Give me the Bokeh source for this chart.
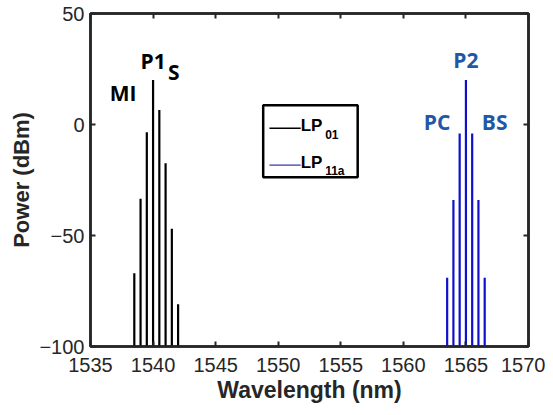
from bokeh.plotting import figure
from bokeh.models import (Range1d, FixedTicker, LinearAxis, Label, BoxAnnotation,
                          CustomJSTickFormatter, ColumnDataSource)
from bokeh.embed import file_html
from bokeh.resources import INLINE

# ---- data ----
wl_lp01 = [1538.5, 1539.0, 1539.5, 1540.0, 1540.5, 1541.0, 1541.5, 1542.0]
pw_lp01 = [-67, -33.5, -3.5, 20, 6.5, -17.5, -47, -81]
wl_lp11 = [1563.5, 1564.0, 1564.5, 1565.0, 1565.5, 1566.0, 1566.5]
pw_lp11 = [-69, -34, -4, 20, -4, -34, -69]
floor_db = -100
x_ticks = [1535, 1540, 1545, 1550, 1555, 1560, 1565, 1570]
y_ticks = [-100, -50, 0, 50]
black_labels = ["MI", "P1", "S"]
black_label_x = [1537.6, 1540.0, 1541.65]
black_label_y = [14, 28.5, 23.5]
blue_labels = ["PC", "P2", "BS"]
blue_label_x = [1562.7, 1565.0, 1567.3]
blue_label_y = [1, 29, 1]
legend_names = ["LP", "LP"]
legend_subs = ["01", "11a"]

AX = "#262626"
BLUE = "#1010cc"
BLUE_TXT = "#1f58a6"

p = figure(width=545, height=407, output_backend="svg", toolbar_location=None,
           x_range=Range1d(1535, 1570), y_range=Range1d(-100, 50),
           min_border_left=90, min_border_right=17, min_border_top=13, min_border_bottom=61)
p.grid.visible = False
p.outline_line_color = AX
p.outline_line_width = 2.5
p.background_fill_color = "white"
p.border_fill_color = "white"

s1 = ColumnDataSource(dict(x=wl_lp01, y0=[floor_db] * len(wl_lp01), y1=pw_lp01))
s2 = ColumnDataSource(dict(x=wl_lp11, y0=[floor_db] * len(wl_lp11), y1=pw_lp11))
p.segment(x0="x", y0="y0", x1="x", y1="y1", source=s1, line_color="black", line_width=2.2)
p.segment(x0="x", y0="y0", x1="x", y1="y1", source=s2, line_color=BLUE, line_width=2.2)

for ax in (p.xaxis[0], p.yaxis[0]):
    ax.axis_line_color = AX
    ax.axis_line_width = 2.5
    ax.major_tick_line_color = AX
    ax.major_tick_line_width = 2
    ax.major_tick_in = 5
    ax.major_tick_out = 0
    ax.minor_tick_line_color = None
    ax.major_label_text_font = "Liberation Sans"
    ax.major_label_text_font_size = "20px"
    ax.major_label_text_color = AX
    ax.axis_label_text_font = "Liberation Sans"
    ax.axis_label_text_font_style = "bold"
    ax.axis_label_text_color = AX

p.xaxis[0].ticker = FixedTicker(ticks=x_ticks)
p.yaxis[0].ticker = FixedTicker(ticks=y_ticks)
p.xaxis[0].axis_label = "Wavelength (nm)"
p.yaxis[0].axis_label = "Power (dBm)"
p.xaxis[0].axis_label_text_font_size = "23px"
p.yaxis[0].axis_label_text_font_size = "22px"
p.xaxis[0].major_label_standoff = 11
p.yaxis[0].major_label_standoff = 6
p.xaxis[0].axis_label_standoff = 2
p.yaxis[0].axis_label_standoff = 2

blank = CustomJSTickFormatter(code="return ''")
for loc, tk in (("right", y_ticks), ("above", x_ticks)):
    extra = LinearAxis(ticker=FixedTicker(ticks=tk), formatter=blank, axis_line_color=AX,
                       axis_line_width=2.5, major_tick_line_color=AX, major_tick_line_width=2,
                       major_tick_in=5, major_tick_out=0, minor_tick_line_color=None,
                       major_label_standoff=0, major_label_text_font_size="0px",
                       axis_label_standoff=0, axis_label_text_font_size="0px")
    p.add_layout(extra, loc)

for t, x, y in zip(black_labels, black_label_x, black_label_y):
    p.add_layout(Label(x=x, y=y, text=t, text_align="center", text_baseline="middle",
                       text_font="Open Sans", text_font_style="bold",
                       text_font_size="21px", text_color="black"))
for t, x, y in zip(blue_labels, blue_label_x, blue_label_y):
    p.add_layout(Label(x=x, y=y, text=t, text_align="center", text_baseline="middle",
                       text_font="Open Sans", text_font_style="bold",
                       text_font_size="21px", text_color=BLUE_TXT))

# legend (manual, to allow subscripts)
p.add_layout(BoxAnnotation(left=1548.8, right=1556.35, top=8.7, bottom=-23.8,
                           fill_alpha=0, line_color="black", line_alpha=1, line_width=2.5))
leg_y = [-1.7, -18.3]
leg_col = ["black", "#3838a8"]
for y, name, sub, col in zip(leg_y, legend_names, legend_subs, leg_col):
    p.line(x=[1549.3, 1551.8], y=[y, y], line_color=col, line_width=1.3)
    p.add_layout(Label(x=1551.8, y=y, text=name, text_align="left", text_baseline="alphabetic",
                       y_offset=3, text_font="Liberation Sans", text_font_style="bold",
                       text_font_size="17px", text_color="black"))
    p.add_layout(Label(x=1553.75, y=y, text=sub, text_align="left", text_baseline="alphabetic",
                       y_offset=-6, text_font="Liberation Sans", text_font_style="bold",
                       text_font_size="12px", text_color="black"))

open("out.html", "w").write(file_html(p, INLINE))
